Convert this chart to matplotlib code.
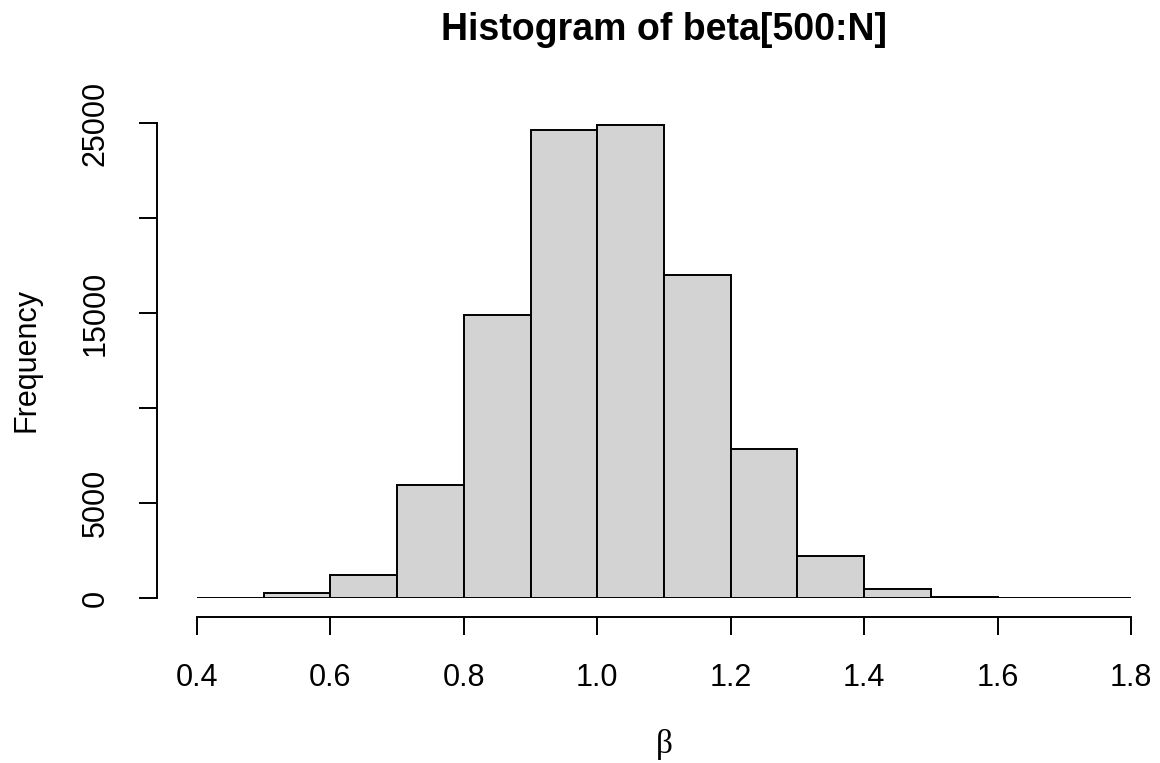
import numpy as np
import matplotlib
matplotlib.use("Agg")
import matplotlib.pyplot as plt

# Histogram data
bin_edges = np.round(np.arange(0.4, 1.81, 0.1), 1)
counts = [20, 250, 1230, 5950, 14900, 24650, 24900, 17000, 7850, 2210, 460, 60, 15, 8]
x_ticks = [0.4, 0.6, 0.8, 1.0, 1.2, 1.4, 1.6, 1.8]
y_ticks = [0, 5000, 10000, 15000, 20000, 25000]
y_labels = ["0", "5000", "", "15000", "", "25000"]

plt.rcParams["font.family"] = ["Liberation Sans", "DejaVu Sans"]

W, H = 1160, 763
fig = plt.figure(figsize=(W / 100, H / 100), dpi=100)

# axes placed so 0.4 -> x=197 px, 1.8 -> x=1131 px; 0 -> y=598 px, 25000 -> y=123 px
ax = fig.add_axes([197 / W, (H - 598) / H, (1131 - 197) / W, (598 - 123) / H])

ax.hist(bin_edges[:-1], bins=bin_edges, weights=counts,
        color="#d3d3d3", edgecolor="black", linewidth=1.4)

ax.set_xlim(0.4, 1.8)
ax.set_ylim(0, 25000)

for s in ["top", "right"]:
    ax.spines[s].set_visible(False)
ax.spines["left"].set_position(("outward", 29))
ax.spines["bottom"].set_position(("outward", 14))
ax.spines["left"].set_bounds(0, 25000)
ax.spines["bottom"].set_bounds(0.4, 1.8)
ax.spines["left"].set_linewidth(1.4)
ax.spines["bottom"].set_linewidth(1.4)

ax.set_xticks(x_ticks)
ax.set_xticklabels([f"{v:.1f}" for v in x_ticks])
ax.set_yticks(y_ticks)
ax.set_yticklabels(y_labels)
ax.tick_params(axis="both", length=13, width=1.4, labelsize=22, pad=20)
for lab in ax.get_yticklabels():
    lab.set_rotation(90)
    lab.set_va("center")

fig.text(664 / W, 1 - 30 / H, "Histogram of beta[500:N]",
         ha="center", va="center", fontsize=27, fontweight="bold")
fig.text(27 / W, 1 - 360 / H, "Frequency", rotation=90,
         ha="center", va="center", fontsize=22)
fig.text(664 / W, 1 - 745 / H, "β", ha="center", va="center",
         fontsize=24, family=["Liberation Serif", "DejaVu Serif"])

fig.savefig("out.png", dpi=100)
